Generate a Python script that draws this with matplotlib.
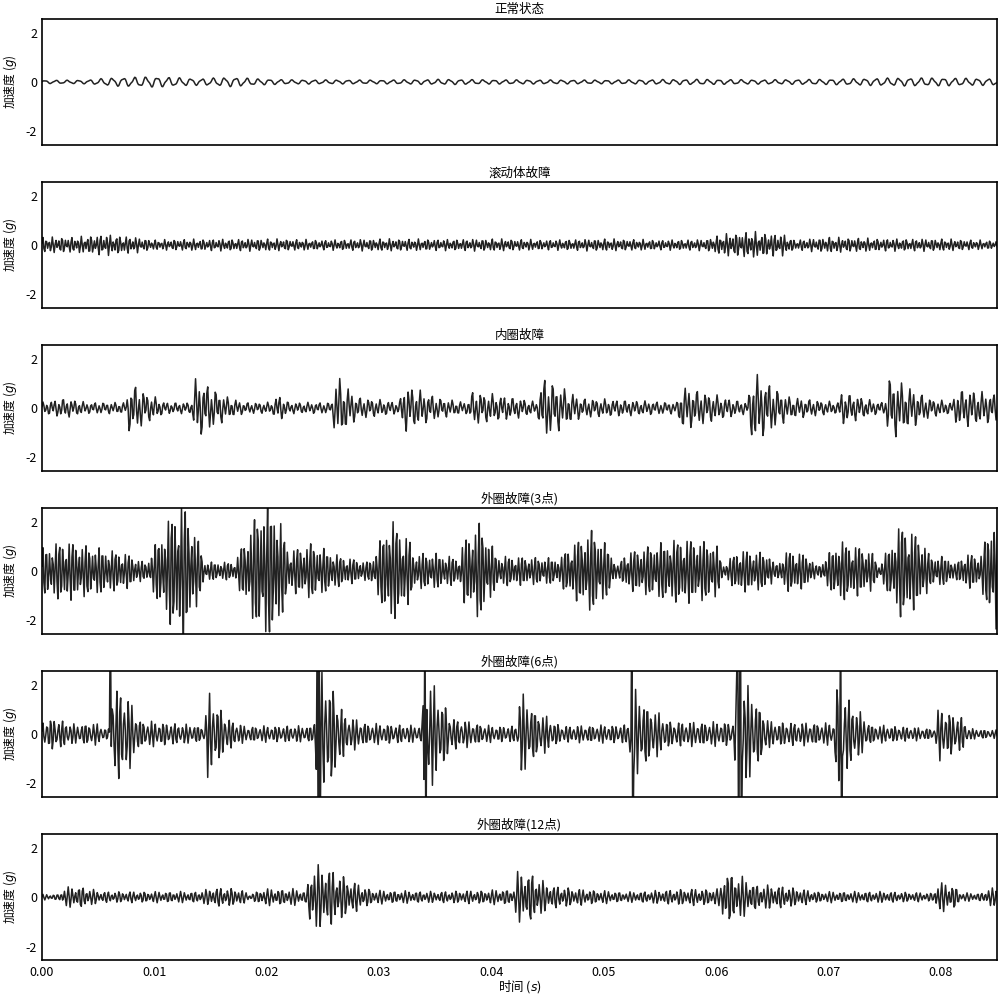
import matplotlib.pyplot as plt
import numpy as np

plt.rcParams['font.family'] = ['Noto Sans CJK SC', 'DejaVu Sans']
plt.rcParams['axes.unicode_minus'] = False
plt.rcParams['mathtext.fontset'] = 'dejavusans'

titles = ["正常状态", "滚动体故障", "内圈故障", "外圈故障(3点)", "外圈故障(6点)", "外圈故障(12点)"]

# envelope breakpoints (time s, amplitude g)
normal_t = [0, 0.004, 0.006, 0.010, 0.014, 0.017, 0.019, 0.022, 0.030, 0.036, 0.040, 0.050, 0.058, 0.064, 0.070, 0.076, 0.080, 0.085]
normal_a = [0.06, 0.07, 0.15, 0.2, 0.12, 0.18, 0.12, 0.08, 0.07, 0.1, 0.08, 0.07, 0.1, 0.08, 0.1, 0.15, 0.15, 0.12]

ball_t = [0, 0.003, 0.0055, 0.008, 0.010, 0.012, 0.020, 0.025, 0.030, 0.036, 0.040, 0.045, 0.050, 0.055, 0.059, 0.0605, 0.063, 0.066, 0.067, 0.070, 0.075, 0.080, 0.085]
ball_a = [0.28, 0.28, 0.38, 0.3, 0.18, 0.2, 0.22, 0.18, 0.22, 0.2, 0.22, 0.18, 0.22, 0.18, 0.2, 0.38, 0.48, 0.38, 0.18, 0.28, 0.22, 0.22, 0.15]

inner_t = [0, 0.002, 0.004, 0.0075, 0.0078, 0.0095, 0.011, 0.0133, 0.0137, 0.0165, 0.018, 0.0205, 0.021, 0.022,
           0.0258, 0.0262, 0.028, 0.0318, 0.0322, 0.0355, 0.0378, 0.0383, 0.0425, 0.0441, 0.0445, 0.048, 0.0565,
           0.0569, 0.061, 0.0628, 0.0632, 0.0665, 0.0708, 0.0712, 0.074, 0.075, 0.0754, 0.079, 0.081, 0.0815, 0.085]
inner_a = [0.2, 0.35, 0.2, 0.2, 0.95, 0.5, 0.2, 0.2, 1.1, 0.4, 0.2, 0.2, 0.5, 0.2,
           0.2, 1.2, 0.4, 0.2, 0.85, 0.35, 0.2, 0.6, 0.35, 0.2, 1.15, 0.35, 0.2,
           0.8, 0.35, 0.2, 1.3, 0.4, 0.2, 0.6, 0.25, 0.2, 1.15, 0.35, 0.2, 0.7, 0.5]

o3_t = [0, 0.002, 0.004, 0.0075, 0.0093, 0.0098, 0.0115, 0.0125, 0.0137, 0.0145, 0.0172, 0.0178, 0.0195, 0.0208,
        0.0217, 0.022, 0.024, 0.0265, 0.029, 0.0295, 0.031, 0.0328, 0.033, 0.035, 0.0372, 0.0375, 0.039, 0.0405,
        0.043, 0.0462, 0.0465, 0.049, 0.0505, 0.0513, 0.0518, 0.055, 0.057, 0.060, 0.0606, 0.062, 0.0648, 0.0652,
        0.0665, 0.0683, 0.069, 0.071, 0.0738, 0.0745, 0.0765, 0.0785, 0.079, 0.0808, 0.0812, 0.0822, 0.0835, 0.085]
o3_a = [0.9, 1.2, 1.0, 0.7, 0.3, 0.8, 2.2, 2.8, 1.5, 0.35, 0.35, 1.0, 2.6, 2.6,
        1.2, 0.8, 1.1, 0.6, 0.35, 0.6, 2.1, 1.2, 0.7, 0.7, 0.5, 1.2, 1.95, 0.6,
        0.55, 0.5, 0.8, 1.65, 0.9, 0.15, 0.7, 1.1, 1.3, 1.1, 0.2, 0.85, 0.7, 0.2,
        0.85, 0.6, 0.15, 1.2, 0.8, 0.2, 1.9, 1.2, 0.6, 0.55, 0.25, 0.7, 0.6, 2.6]

o6_t = [0, 0.001, 0.003, 0.0045, 0.0058, 0.006, 0.0062, 0.0075, 0.0088, 0.0145, 0.0147, 0.0155, 0.0165, 0.018,
        0.0242, 0.0244, 0.0255, 0.027, 0.029, 0.0338, 0.034, 0.0352, 0.0365, 0.040, 0.0423, 0.0425, 0.044, 0.0462,
        0.0522, 0.0524, 0.0545, 0.056, 0.0616, 0.0618, 0.0635, 0.0648, 0.0705, 0.0707, 0.072, 0.0738, 0.0795,
        0.0798, 0.082, 0.0825, 0.085]
o6_a = [0.5, 0.6, 0.35, 0.45, 0.2, 0.2, 1.9, 1.5, 0.5, 0.3, 1.6, 1.2, 0.6, 0.3,
        0.3, 2.4, 2.1, 0.7, 0.4, 0.3, 2.3, 1.6, 0.6, 0.3, 0.3, 1.6, 0.9, 0.3,
        0.35, 1.8, 0.9, 0.45, 0.45, 2.3, 1.4, 0.45, 0.4, 2.0, 1.2, 0.35, 0.2,
        1.0, 0.6, 0.2, 0.15]
# clipped impulses (drawn as full height lines)
o6_spike_t = [0.0061, 0.0245, 0.0247, 0.0341, 0.0525, 0.0619, 0.0622, 0.0711]
o6_spike_lo = [-0.5, -5, -5, -5, -5, -5, -5, -5]

o12_t = [0, 0.0015, 0.002, 0.0035, 0.0052, 0.008, 0.0138, 0.0155, 0.0176, 0.0185, 0.0196, 0.0225, 0.0236, 0.0238,
         0.0255, 0.0275, 0.0295, 0.035, 0.0395, 0.042, 0.0423, 0.0435, 0.045, 0.0476, 0.052, 0.0577, 0.0604,
         0.0606, 0.062, 0.0637, 0.066, 0.069, 0.075, 0.0794, 0.0796, 0.0812, 0.0818, 0.0838, 0.0842, 0.085]
o12_a = [0.1, 0.1, 0.35, 0.4, 0.2, 0.2, 0.2, 0.35, 0.3, 0.1, 0.3, 0.3, 0.2, 1.2,
         1.1, 0.6, 0.25, 0.2, 0.25, 0.3, 0.9, 0.95, 0.45, 0.3, 0.18, 0.3, 0.3,
         1.1, 0.8, 0.45, 0.4, 0.2, 0.2, 0.15, 0.55, 0.45, 0.15, 0.15, 0.35, 0.3]

carrier_f = [1000, 3500, 2800, 3400, 2900, 3100]    # main vibration frequency (Hz)
second_f = [2300, 2300, 1100, 2600, 3900, 2200]     # weaker second component (Hz)
second_w = [0.25, 0.45, 0.45, 0.3, 0.35, 0.4]

fs = 12000   # sampling rate
t = np.arange(0, 0.0855, 1 / fs)


def vib(env_t, env_a, f, f2, w2):
    env = np.interp(t, env_t, env_a)
    wave = np.sin(2 * np.pi * f * t) + w2 * np.sin(2 * np.pi * f2 * t + 1.0)
    return env * wave / (1 + 0.5 * w2)


env_list = [(normal_t, normal_a), (ball_t, ball_a), (inner_t, inner_a),
            (o3_t, o3_a), (o6_t, o6_a), (o12_t, o12_a)]
signals = [vib(et, ea, f, f2, w2) for (et, ea), f, f2, w2 in zip(env_list, carrier_f, second_f, second_w)]

for st, lo in zip(o6_spike_t, o6_spike_lo):
    i = int(round(st * fs))
    signals[4][i] = 5
    signals[4][i + 1] = lo

fig, axes = plt.subplots(6, 1, sharex=True, figsize=(10, 9.97), dpi=100)
fig.subplots_adjust(left=0.042, right=0.997, top=0.981, bottom=0.037, hspace=0.294)

for ax, sig, title in zip(axes, signals, titles):
    ax.plot(t, sig, color='#222222', lw=1.1)
    ax.set_ylim(-2.55, 2.55)
    ax.set_yticks([-2, 0, 2])
    ax.set_title(title, fontsize=9, pad=4)
    ax.set_ylabel("加速度 ($g$)", fontsize=8.5)
    ax.yaxis.set_label_coords(-0.024, 0.5)
    ax.tick_params(length=0, labelsize=9)
    for s in ax.spines.values():
        s.set_linewidth(1.2)

axes[-1].set_xlim(0, 0.085)
axes[-1].set_xticks(np.arange(0, 0.0801, 0.01))
axes[-1].set_xticklabels(["%.2f" % v for v in np.arange(0, 0.0801, 0.01)])
axes[-1].tick_params(axis='x', pad=4)
axes[-1].set_xlabel("时间 ($s$)", fontsize=9)
axes[-1].xaxis.set_label_coords(0.5, -0.145)

plt.savefig("out.png")
